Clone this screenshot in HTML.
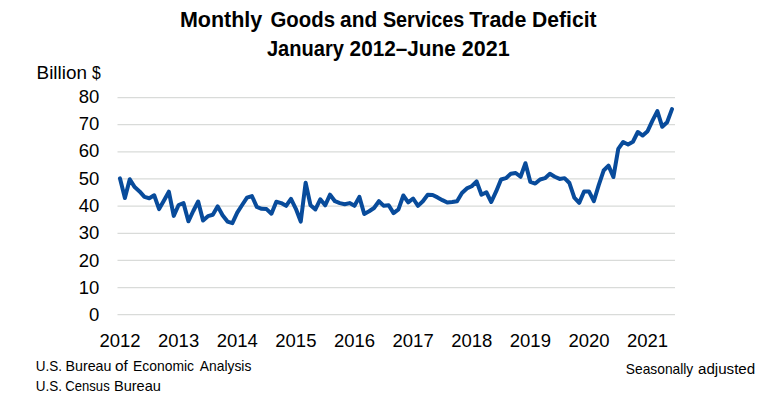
<!DOCTYPE html>
<html><head><meta charset="utf-8">
<style>
html,body{margin:0;padding:0;background:#fff;}
body{width:764px;height:397px;overflow:hidden;}
svg{display:block;}
text{font-family:"Liberation Sans",sans-serif;fill:#000;}
</style></head><body>
<svg width="764" height="397" viewBox="0 0 764 397">
<rect width="764" height="397" fill="#fff"/>
<line x1="117.5" y1="314.70" x2="675" y2="314.70" stroke="#d9dbd9" stroke-width="1.25"/>
<line x1="117.5" y1="287.55" x2="675" y2="287.55" stroke="#d9dbd9" stroke-width="1.25"/>
<line x1="117.5" y1="260.40" x2="675" y2="260.40" stroke="#d9dbd9" stroke-width="1.25"/>
<line x1="117.5" y1="233.25" x2="675" y2="233.25" stroke="#d9dbd9" stroke-width="1.25"/>
<line x1="117.5" y1="206.10" x2="675" y2="206.10" stroke="#d9dbd9" stroke-width="1.25"/>
<line x1="117.5" y1="178.95" x2="675" y2="178.95" stroke="#d9dbd9" stroke-width="1.25"/>
<line x1="117.5" y1="151.80" x2="675" y2="151.80" stroke="#d9dbd9" stroke-width="1.25"/>
<line x1="117.5" y1="124.65" x2="675" y2="124.65" stroke="#d9dbd9" stroke-width="1.25"/>
<line x1="117.5" y1="97.50" x2="675" y2="97.50" stroke="#d9dbd9" stroke-width="1.25"/>
<text transform="translate(99.30 321.30) scale(1.0 1)" text-anchor="end" font-size="18.5">0</text>
<text transform="translate(99.30 293.95) scale(1.0 1)" text-anchor="end" font-size="18.5">10</text>
<text transform="translate(99.30 266.60) scale(1.0 1)" text-anchor="end" font-size="18.5">20</text>
<text transform="translate(99.30 239.25) scale(1.0 1)" text-anchor="end" font-size="18.5">30</text>
<text transform="translate(99.30 211.90) scale(1.0 1)" text-anchor="end" font-size="18.5">40</text>
<text transform="translate(99.30 184.55) scale(1.0 1)" text-anchor="end" font-size="18.5">50</text>
<text transform="translate(99.30 157.20) scale(1.0 1)" text-anchor="end" font-size="18.5">60</text>
<text transform="translate(99.30 129.85) scale(1.0 1)" text-anchor="end" font-size="18.5">70</text>
<text transform="translate(99.30 102.50) scale(1.0 1)" text-anchor="end" font-size="18.5">80</text>
<text transform="translate(120.00 347.00) scale(1.0 1)" text-anchor="middle" font-size="18.5">2012</text>
<text transform="translate(178.62 347.00) scale(1.0 1)" text-anchor="middle" font-size="18.5">2013</text>
<text transform="translate(237.24 347.00) scale(1.0 1)" text-anchor="middle" font-size="18.5">2014</text>
<text transform="translate(295.86 347.00) scale(1.0 1)" text-anchor="middle" font-size="18.5">2015</text>
<text transform="translate(354.48 347.00) scale(1.0 1)" text-anchor="middle" font-size="18.5">2016</text>
<text transform="translate(413.10 347.00) scale(1.0 1)" text-anchor="middle" font-size="18.5">2017</text>
<text transform="translate(471.72 347.00) scale(1.0 1)" text-anchor="middle" font-size="18.5">2018</text>
<text transform="translate(530.34 347.00) scale(1.0 1)" text-anchor="middle" font-size="18.5">2019</text>
<text transform="translate(588.96 347.00) scale(1.0 1)" text-anchor="middle" font-size="18.5">2020</text>
<text transform="translate(647.58 347.00) scale(1.0 1)" text-anchor="middle" font-size="18.5">2021</text>
<text transform="translate(179.88 26.80) scale(0.978 1)" text-anchor="start" font-size="22.0" font-weight="bold">Monthly</text>
<text transform="translate(270.54 26.80) scale(0.9256 1)" text-anchor="start" font-size="22.0" font-weight="bold">Goods</text>
<text transform="translate(340.07 26.80) scale(0.9512 1)" text-anchor="start" font-size="22.0" font-weight="bold">and</text>
<text transform="translate(382.91 26.80) scale(0.8992 1)" text-anchor="start" font-size="22.0" font-weight="bold">Services</text>
<text transform="translate(469.14 26.80) scale(0.976 1)" text-anchor="start" font-size="22.0" font-weight="bold">Trade</text>
<text transform="translate(532.11 26.80) scale(0.9585 1)" text-anchor="start" font-size="22.0" font-weight="bold">Deficit</text>
<text transform="translate(266.88 55.70) scale(0.9129 1)" text-anchor="start" font-size="22.0" font-weight="bold">January</text>
<text transform="translate(349.59 55.70) scale(0.944 1)" text-anchor="start" font-size="22.0" font-weight="bold">2012–June</text>
<text transform="translate(461.77 55.70) scale(0.9776 1)" text-anchor="start" font-size="22.0" font-weight="bold">2021</text>
<text transform="translate(36.55 79.00) scale(1.0224 1)" text-anchor="start" font-size="18.5">Billion</text>
<text transform="translate(92.01 79.00) scale(0.8497 1)" text-anchor="start" font-size="18.5">$</text>
<text transform="translate(35.75 370.90) scale(0.9384 1)" text-anchor="start" font-size="14.4">U.S.</text>
<text transform="translate(65.43 370.90) scale(0.9911 1)" text-anchor="start" font-size="14.4">Bureau</text>
<text transform="translate(115.05 370.90) scale(1.067 1)" text-anchor="start" font-size="14.4">of</text>
<text transform="translate(133.06 370.90) scale(0.965 1)" text-anchor="start" font-size="14.4">Economic</text>
<text transform="translate(199.77 370.90) scale(0.9627 1)" text-anchor="start" font-size="14.4">Analysis</text>
<text transform="translate(35.75 390.70) scale(0.9384 1)" text-anchor="start" font-size="14.4">U.S.</text>
<text transform="translate(65.35 390.70) scale(0.908 1)" text-anchor="start" font-size="14.4">Census</text>
<text transform="translate(113.90 390.70) scale(1.0137 1)" text-anchor="start" font-size="14.4">Bureau</text>
<text transform="translate(625.87 374.10) scale(0.9577 1)" text-anchor="start" font-size="14.4">Seasonally</text>
<text transform="translate(697.96 374.10) scale(1.0528 1)" text-anchor="start" font-size="14.4">adjusted</text>

<polyline points="120.00,178.41 124.89,197.95 129.77,179.22 134.66,187.09 139.54,191.44 144.43,196.87 149.31,198.23 154.19,195.24 159.08,209.09 163.97,200.40 168.85,191.71 173.74,215.87 178.62,205.01 183.50,203.11 188.39,221.30 193.27,210.99 198.16,201.48 203.05,220.49 207.93,216.15 212.81,214.79 217.70,206.37 222.58,215.33 227.47,221.58 232.35,223.20 237.24,212.62 242.12,205.01 247.01,197.68 251.89,196.05 256.78,206.91 261.66,208.81 266.55,209.09 271.44,213.70 276.32,201.76 281.20,203.11 286.09,205.83 290.98,198.77 295.86,208.81 300.75,221.58 305.63,182.75 310.51,205.29 315.40,209.36 320.28,199.31 325.17,205.29 330.05,194.70 334.94,201.21 339.82,203.11 344.71,204.20 349.60,203.11 354.48,205.83 359.37,196.87 364.25,213.97 369.13,211.26 374.02,208.00 378.90,201.21 383.79,205.83 388.68,205.29 393.56,213.16 398.44,209.36 403.33,195.51 408.21,202.30 413.10,198.50 417.99,205.83 422.87,201.21 427.75,194.70 432.64,194.97 437.52,197.41 442.41,200.13 447.29,202.57 452.18,202.03 457.06,201.21 461.95,193.07 466.83,188.45 471.72,186.28 476.60,181.39 481.49,194.70 486.38,192.25 491.26,202.03 496.14,191.44 501.03,179.49 505.91,178.14 510.80,173.79 515.68,172.98 520.57,176.78 525.45,163.20 530.34,181.94 535.22,183.57 540.11,179.49 545.00,178.14 549.88,173.79 554.76,176.78 559.65,178.95 564.53,178.14 569.42,183.02 574.31,197.68 579.19,202.84 584.08,191.44 588.96,191.44 593.85,201.21 598.73,185.19 603.62,170.53 608.50,165.65 613.38,177.05 618.27,148.81 623.15,142.03 628.04,144.47 632.92,141.75 637.81,131.98 642.69,135.51 647.58,131.17 652.47,120.58 657.35,111.07 662.24,126.82 667.12,122.21 672.00,109.17" fill="none" stroke="#084b9b" stroke-width="4" stroke-linejoin="round" stroke-linecap="round"/>
</svg>
</body></html>
